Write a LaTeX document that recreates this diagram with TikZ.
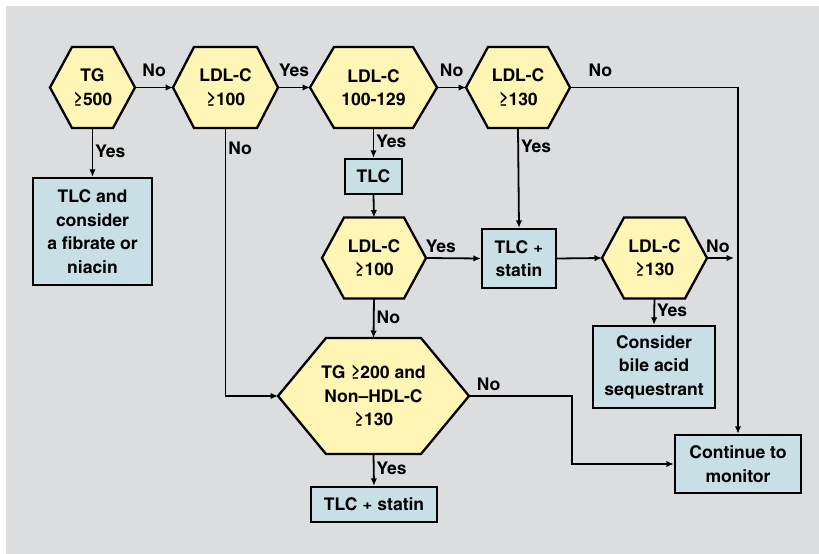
\documentclass[tikz,border=0pt]{standalone}
\usepackage{fontspec}
\setmainfont{texgyreheroscn}[Extension=.otf, UprightFont=*-regular, BoldFont=*-bold, FakeStretch=1.22]
\usetikzlibrary{arrows.meta}

\definecolor{bggray}{HTML}{DCDDDF}
\definecolor{hexyellow}{HTML}{FFF5B5}
\definecolor{boxblue}{HTML}{C8DFE5}

\newcommand\chartfont{\fontsize{17.5}{23.5}\selectfont\bfseries}

\tikzset{
  hexa/.style={draw=black, line width=2.3pt, fill=hexyellow},
  hexnode/.style={align=center, inner sep=0pt, outer sep=0pt, font=\chartfont},
  box/.style={draw=black, line width=2.3pt, fill=boxblue, align=center, inner sep=2pt, font=\chartfont},
  conn/.style={line width=1.8pt, -{Latex[length=7.5pt,width=6.5pt]}},
  lbl/.style={font=\chartfont, inner sep=2pt, text height=12.5pt, text depth=3pt},
}

\begin{document}
\begin{tikzpicture}[x=1pt, y=-1pt]
  \useasboundingbox (0,0) rectangle (819,554);
  \fill[bggray] (6,6) rectangle (819,554);

  % decisions
  \draw[hexa](92.5,87.5) node[hexnode, minimum width=85pt, minimum height=81pt] (tg) {TG\\≥500}
    +(-42.5,0) -- +(-20.5,-40.5) -- +(20.5,-40.5) -- +(42.5,0) -- +(20.5,40.5) -- +(-20.5,40.5) -- cycle;
  \draw[hexa](225.5,87.5) node[hexnode, minimum width=105pt, minimum height=81pt] (ldla) {LDL-C\\≥100}
    +(-52.5,0) -- +(-31.5,-40.5) -- +(31.5,-40.5) -- +(52.5,0) -- +(31.5,40.5) -- +(-31.5,40.5) -- cycle;
  \draw[hexa](373.5,87.5) node[hexnode, minimum width=127pt, minimum height=81pt] (ldlr) {LDL-C\\100-129}
    +(-63.5,0) -- +(-39.5,-40.5) -- +(39.5,-40.5) -- +(63.5,0) -- +(39.5,40.5) -- +(-39.5,40.5) -- cycle;
  \draw[hexa](518,87.5) node[hexnode, minimum width=104pt, minimum height=81pt] (ldlb) {LDL-C\\≥130}
    +(-52,0) -- +(-30,-40.5) -- +(30,-40.5) -- +(52,0) -- +(30,40.5) -- +(-30,40.5) -- cycle;
  \draw[hexa](374,258) node[hexnode, minimum width=104pt, minimum height=81pt] (ldlc) {LDL-C\\≥100}
    +(-52,0) -- +(-30,-40.5) -- +(30,-40.5) -- +(52,0) -- +(30,40.5) -- +(-30,40.5) -- cycle;
  \draw[hexa](654.5,258) node[hexnode, minimum width=105pt, minimum height=81pt] (ldld) {LDL-C\\≥130}
    +(-52.5,0) -- +(-30.5,-40.5) -- +(30.5,-40.5) -- +(52.5,0) -- +(30.5,40.5) -- +(-30.5,40.5) -- cycle;
  \draw[hexa](373.5,396) node[hexnode, minimum width=191pt, minimum height=116pt] (combo) {TG ≥200 and\\Non–HDL-C\\≥130}
    +(-95.5,0) -- +(-47.5,-58) -- +(47.5,-58) -- +(95.5,0) -- +(47.5,58) -- +(-47.5,58) -- cycle;

  % actions
  \node[box, minimum width=119pt, minimum height=107pt] (fib) at (92.5,231.5) {TLC and\\consider\\a fibrate or\\niacin};
  \node[box, minimum width=57pt, minimum height=35pt] (tlc) at (373.5,176.5) {TLC};
  \node[box, minimum width=74pt, minimum height=59pt] (stat) at (519,258.5) {TLC +\\statin};
  \node[box, minimum width=122pt, minimum height=82pt] (bile) at (654,367) {Consider\\bile acid\\sequestrant};
  \node[box, minimum width=126pt, minimum height=58pt] (mon) at (738,464) {Continue to\\monitor};
  \node[box, minimum width=126pt, minimum height=35pt] (statb) at (374,504.5) {TLC + statin};

  \coordinate (stop) at (734,258);

  \draw[conn] (tg.east) -- node[lbl, above, yshift=5pt] (n1) {No} (ldla.west);
  \draw[conn] (ldla.east) -- node[lbl, above, yshift=5pt] (y1) {Yes} (ldlr.west);
  \draw[conn] (ldlr.east) -- node[lbl, above, yshift=5pt] (n2) {No} (ldlb.west);
  \draw[conn] (ldlb.east) -| node[lbl, above, yshift=5pt, pos=0.09] (n3) {No} (mon.north);

  \draw[conn] (tg.south) -- node[lbl, right] (y2) {Yes} (fib.north);
  \draw[conn] (ldla.south) |- node[lbl, right, pos=0.04] (n4) {No} (combo.west);
  \draw[conn] (ldlr.south) -- node[lbl, right] (y3) {Yes} (tlc.north);
  \draw[conn] (tlc.south) -- (ldlc.north);
  \draw[conn] (ldlb.south) -- node[lbl, right, pos=0.2] (y4) {Yes} (stat.north);

  \draw[conn] (ldlc.east) -- node[lbl, above, pos=0.27] (y5) {Yes} (stat.west);
  \draw[conn] (stat.east) -- (ldld.west);
  \draw[conn] (ldld.east) -- node[lbl, above, pos=0.4] (n5) {No} (stop);
  \draw[conn] (ldld.south) -- node[lbl, right] (y6) {Yes} (bile.north);
  \draw[conn] (ldlc.south) -- node[lbl, right] (n6) {No} (combo.north);

  \draw[conn] (combo.east) -- node[lbl, above, pos=0.19] (n7) {No} ++(103,0) |- (mon.west);
  \draw[conn] (combo.south) -- node[lbl, right] (y7) {Yes} (statb.north);

\end{tikzpicture}
\end{document}
